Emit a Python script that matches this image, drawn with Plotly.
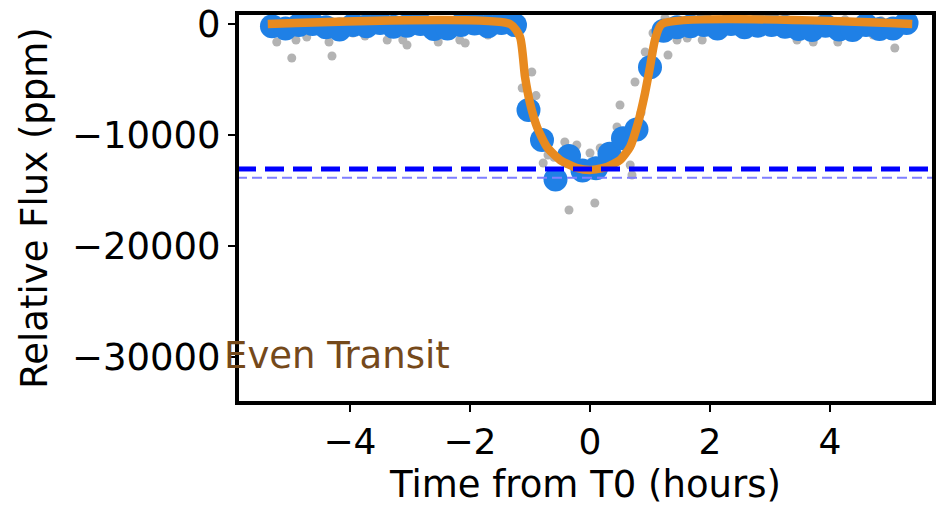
import plotly.graph_objects as go

# ---------------- data ----------------
# raw (unbinned) light-curve points: time from T0 (hours), relative flux (ppm)
raw_time = [-5.35, -5.22, -5.10, -4.97, -4.90, -4.78, -4.72, -4.60, -4.48, -4.35,
            -4.30, -4.18, -4.05, -3.95, -3.85, -3.75, -3.62, -3.50, -3.38, -3.25,
            -3.12, -3.05, -2.92, -2.80, -2.68, -2.53, -2.42, -2.30, -2.17, -2.08,
            -1.95, -1.88, -1.78, -1.70, -1.58, -1.50, -1.40, -1.30, -1.20, -1.13,
            -0.97, -0.90, -0.78, -0.70, -0.60, -0.50, -0.42, -0.35, -0.22, -0.12,
            0.00, 0.08, 0.17, 0.28, 0.38, 0.45, 0.50, 0.60, 0.67, 0.70,
            0.75, 0.85, 0.92, 1.05, 1.18, 1.25, 1.30, 1.45, 1.62, 1.75,
            1.87, 2.00, 2.12, 2.25, 2.38, 2.50, 2.62, 2.75, 2.88, 3.00,
            3.12, 3.25, 3.35, 3.45, 3.58, 3.72, 3.85, 3.98, 4.13, 4.25,
            4.38, 4.50, 4.62, 4.72, 4.85, 4.95, 5.08, 5.20, 5.30]
raw_flux = [300, -1620, 200, -3060, -1440, 400, -1170, 300, -200, -1620,
            -2880, 100, -300, -810, 500, -1080, 200, 400, -1440, -810,
            -1440, -1890, 300, 100, 200, -1620, 300, -200, -1440, -1710,
            200, -540, 400, -990, -360, -540, 300, 200, -500, -5770,
            -4320, -6450, -12520, -11800, -12000, -13500, -10630, -16760, -10900, -13000,
            -11620, -16130, -11170, -12500, -12800, -9280, -7300, -10800, -12700, -13600,
            -5230, -8000, -2520, -810, -300, 540, -2790, -1440, -1260, 200,
            -1440, 300, -200, 400, 100, -300, 200, 300, -100, 200,
            -400, 300, 100, -1440, 200, -1620, 300, -200, -1620, 400,
            -100, 200, -300, -990, 300, -200, -2160, 100, -100]

# binned light curve
bin_time = [-5.300, -5.075, -4.850, -4.625, -4.400, -4.175, -3.950, -3.725, -3.500, -3.275,
            -3.050, -2.825, -2.600, -2.375, -2.150, -1.925, -1.700, -1.475, -1.250, -1.025,
            -0.800, -0.575, -0.350, -0.125, 0.100, 0.325, 0.550, 0.775, 1.000, 1.225,
            1.450, 1.675, 1.900, 2.125, 2.350, 2.575, 2.800, 3.025, 3.250, 3.475,
            3.700, 3.925, 4.150, 4.375, 4.600, 4.825, 5.050, 5.275]
bin_flux = [-200, -400, -100, 0, -300, -500, -100, -200, 100, -250,
            -150, 0, -450, -400, -100, 50, -200, 100, -100, -7750,
            -10450, -14000, -11900, -13200, -13000, -11700, -10300, -9500, -3900, -600,
            -300, -200, -100, -400, 0, -300, -150, -100, -250, -450,
            -550, -150, -500, -550, -100, -450, -400, 100]

# transit model curve
model_time = [-5.37, -1.333, -1.167, -1.083, -1.000, -0.883, -0.717, -0.500, -0.217, 0.000,
              0.283, 0.500, 0.667, 0.800, 0.917, 1.000, 1.083, 1.200, 5.37]
model_flux = [0, 0, -1170, -4770, -7120, -9280, -11080, -12250, -12970, -13150,
              -12880, -12250, -11080, -8920, -6220, -3870, -1440, 0, 0]

depth_level = -13060        # fitted depth (dark dashed line)
depth_level_alt = -13850    # alternative depth (light dashed line)

x_range = [-5.883, 5.733]
y_range = [-34144, 991]
x_tickvals = [-4, -2, 0, 2, 4]
x_ticktext = ["\u22124", "\u22122", "0", "2", "4"]
y_tickvals = [0, -10000, -20000, -30000]
y_ticktext = ["0", "\u221210000", "\u221220000", "\u221230000"]

label_text = "Even Transit"
label_y = -29820

# ---------------- figure ----------------
FONT = "DejaVu Sans"
fig = go.Figure()

fig.add_trace(go.Scatter(x=raw_time, y=raw_flux, mode="markers",
                         marker=dict(size=9, color="#b3b3b3", line=dict(width=0)),
                         showlegend=False, hoverinfo="skip"))
fig.add_trace(go.Scatter(x=bin_time, y=bin_flux, mode="markers",
                         marker=dict(size=24, color="#1f80e6", line=dict(width=0)),
                         showlegend=False))
fig.add_trace(go.Scatter(x=model_time, y=model_flux, mode="lines",
                         line=dict(color="#e88a1f", width=8.5, shape="spline", smoothing=0.6),
                         showlegend=False))
fig.add_trace(go.Scatter(x=x_range, y=[depth_level, depth_level], mode="lines",
                         line=dict(color="#0000ff", width=5, dash="19px,9px"),
                         showlegend=False))
fig.add_trace(go.Scatter(x=x_range, y=[depth_level_alt, depth_level_alt], mode="lines",
                         line=dict(color="#7f7fff", width=2, dash="10px,5px"),
                         showlegend=False))

# axes frame (all four spines)
fig.add_shape(type="rect", xref="paper", yref="paper", x0=0, x1=1, y0=0, y1=1,
              line=dict(color="black", width=4), fillcolor="rgba(0,0,0,0)", layer="above")

# anchored at the left edge of the x range, shifted slightly left of the spine
fig.add_annotation(x=x_range[0], y=label_y, xref="x", yref="y", xshift=-15,
                   text=label_text, showarrow=False, xanchor="left", yanchor="middle",
                   font=dict(family=FONT, size=37, color="#75491a"))

axis_common = dict(showline=False, ticks="outside", ticklen=8, tickwidth=2, tickcolor="black",
                   showgrid=False, zeroline=False, ticklabeloverflow="allow")

fig.update_xaxes(range=x_range, tickvals=x_tickvals, ticktext=x_ticktext,
                 ticklabelstandoff=-1,
                 tickfont=dict(family=FONT, size=36, color="black"),
                 title=dict(text="Time from T0 (hours)", font=dict(family=FONT, size=37, color="black"),
                            standoff=11),
                 **axis_common)
fig.update_yaxes(range=y_range, tickvals=y_tickvals, ticktext=y_ticktext,
                 tickfont=dict(family=FONT, size=37, color="black"),
                 title=dict(text="Relative Flux (ppm)", font=dict(family=FONT, size=37, color="black"),
                            standoff=12),
                 **axis_common)

fig.update_layout(width=936, height=506,
                  margin=dict(l=237, r=2, t=13, b=103, autoexpand=False),
                  plot_bgcolor="white", paper_bgcolor="white",
                  showlegend=False)

fig.write_html("out.html",
               config={"displayModeBar": False},
               post_script="document.body.style.margin='0px';document.body.style.overflow='hidden';")
